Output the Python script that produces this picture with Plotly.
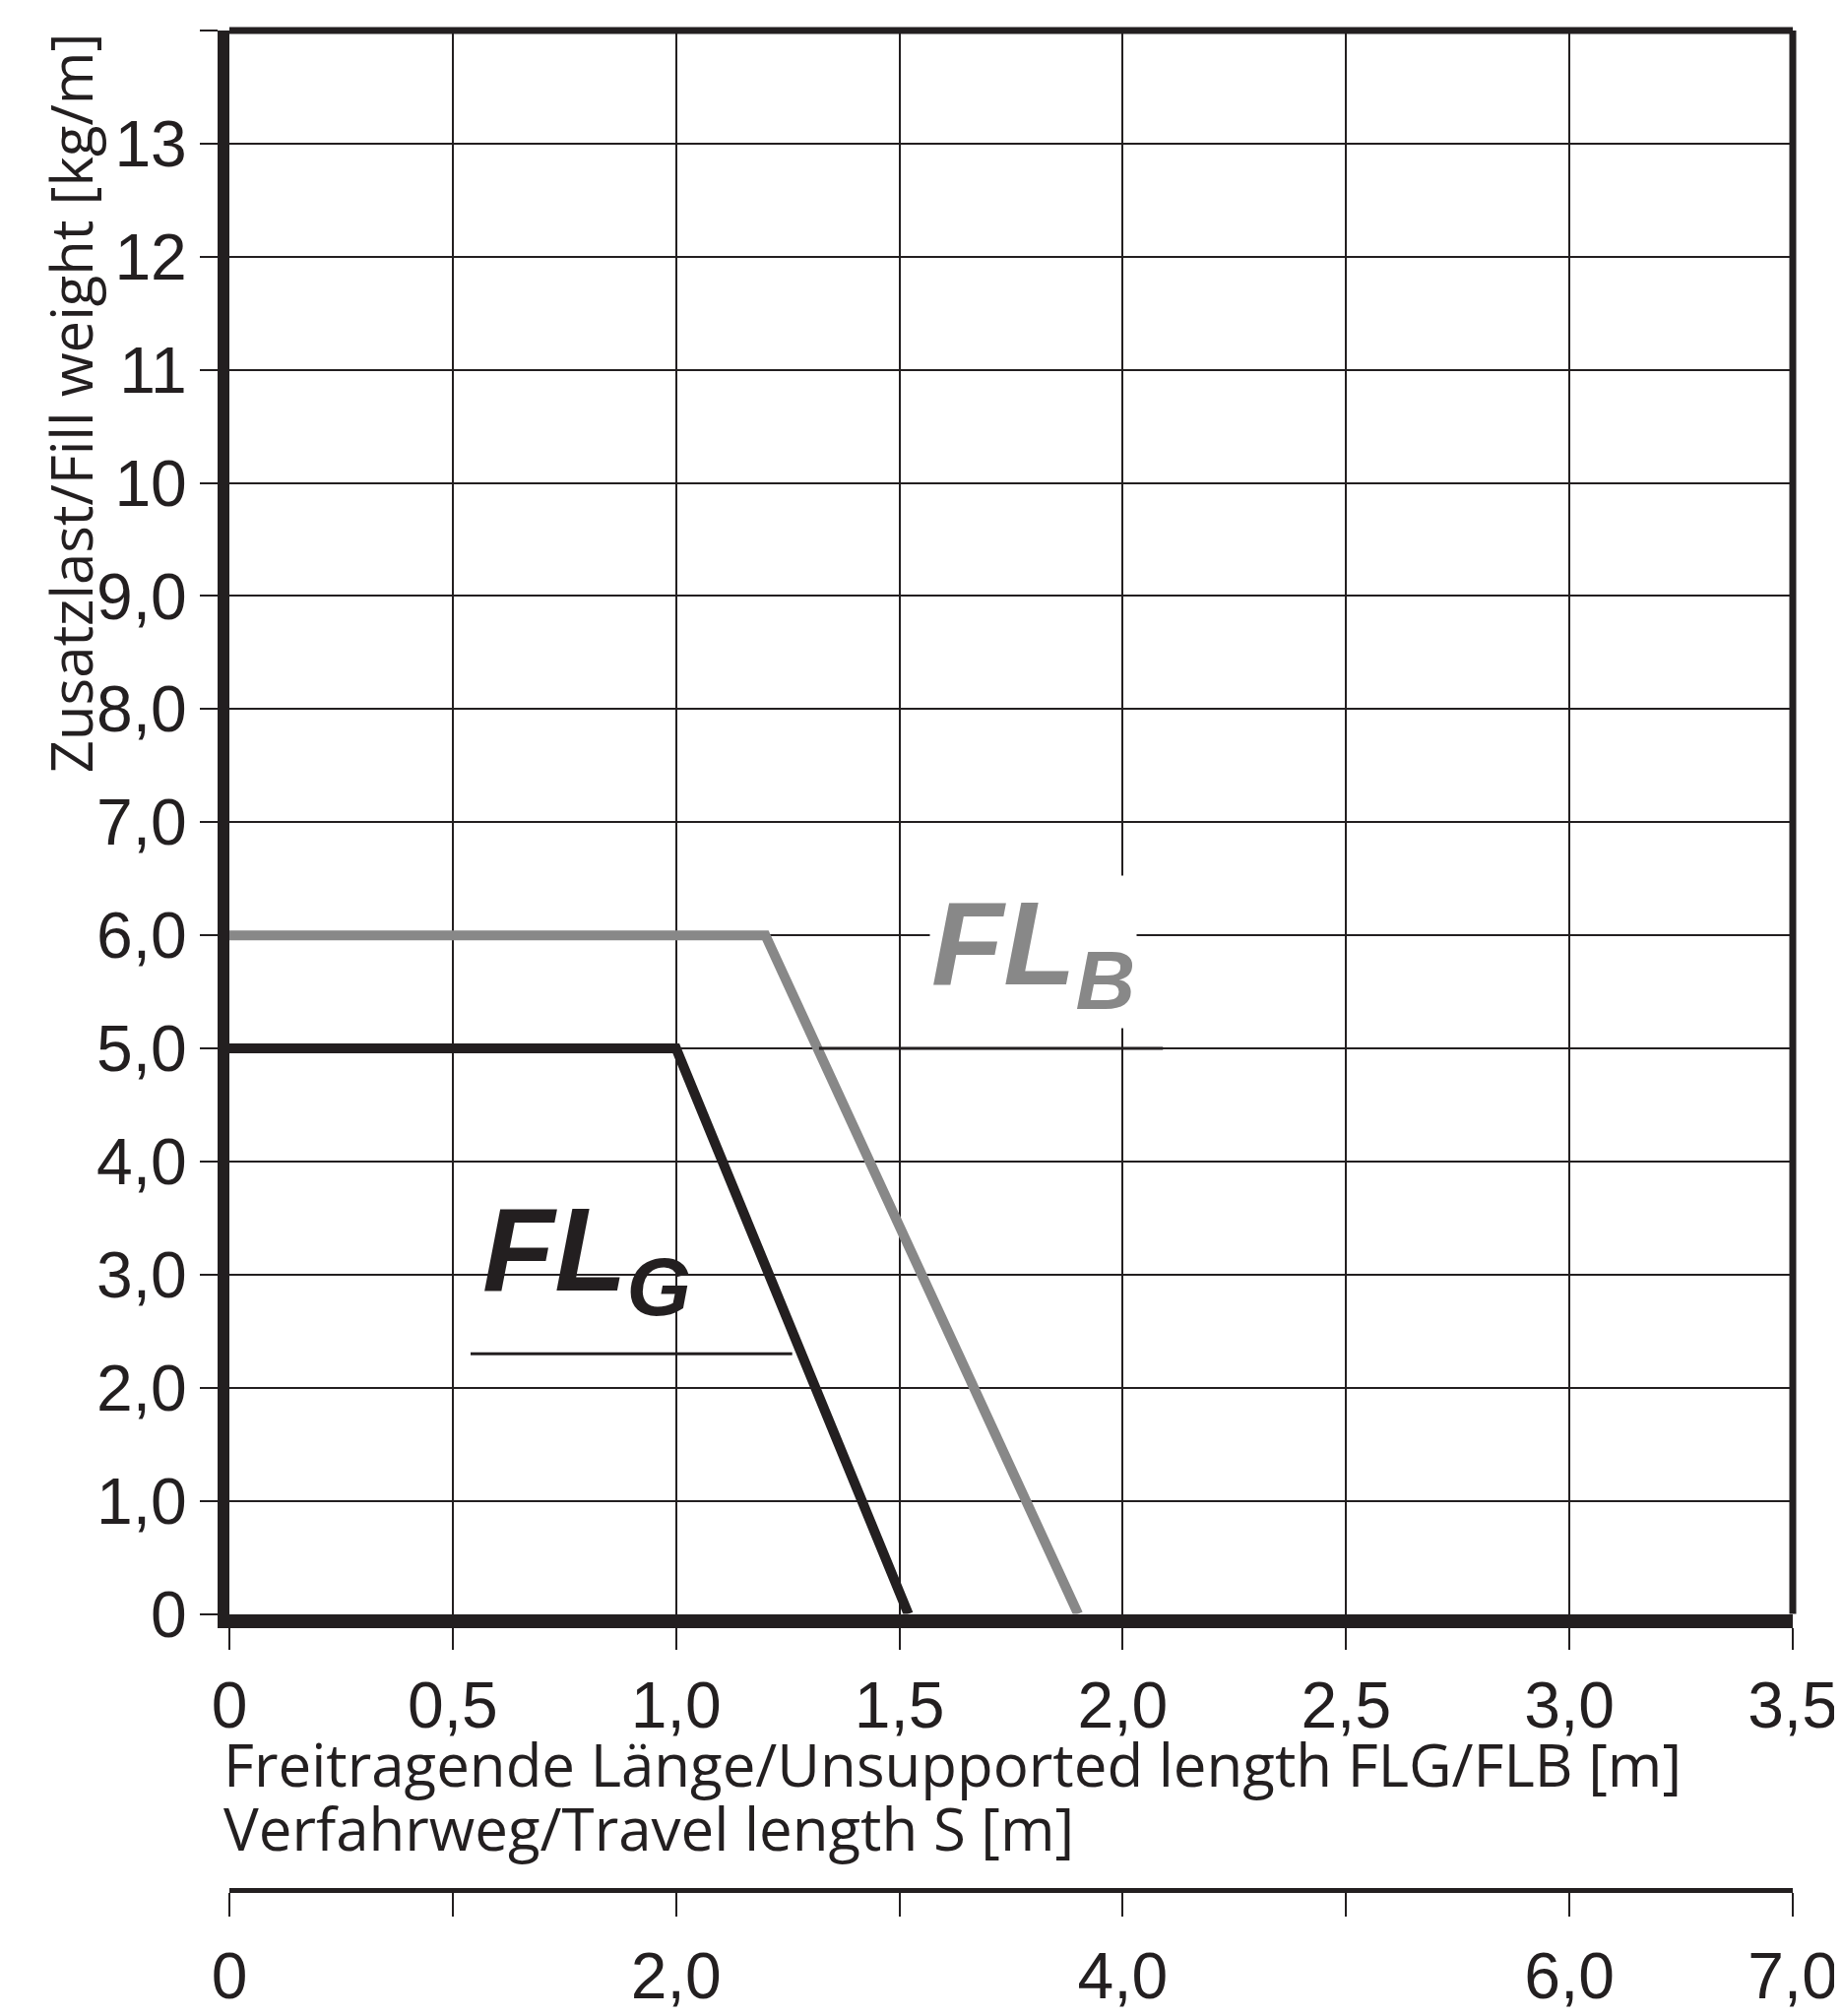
import plotly.graph_objects as go

# Kennlinien
flg_x = [0, 1.0, 1.52]
flg_y = [5, 5, 0]
flb_x = [0, 1.2, 1.9]
flb_y = [6, 6, 0]

y_ticks = list(range(0, 15))
y_labels = ['0', '1,0', '2,0', '3,0', '4,0', '5,0', '6,0', '7,0', '8,0', '9,0', '10', '11', '12', '13', '14']
x_ticks = [0, 0.5, 1.0, 1.5, 2.0, 2.5, 3.0, 3.5]
x_labels = ['0', '0,5', '1,0', '1,5', '2,0', '2,5', '3,0', '3,5']
s_ticks = [0, 1, 2, 3, 4, 5, 6, 7]
s_labels = ['0', '', '2,0', '', '4,0', '', '6,0', '7,0']

schrift = 'Liberation Sans, Arial'
titel_schrift = 'Open Sans, Noto Sans'
grau = '#888888'
schwarz = '#231f20'

fig = go.Figure()
fig.add_trace(go.Scatter(x=flb_x, y=flb_y, mode='lines', line=dict(color=grau, width=10), showlegend=False))
fig.add_trace(go.Scatter(x=flg_x, y=flg_y, mode='lines', line=dict(color=schwarz, width=10), showlegend=False))
# leere Spur für zweite Achse
fig.add_trace(go.Scatter(x=[0, 7], y=[0, 0], xaxis='x2', mode='none', showlegend=False, hoverinfo='skip'))

fig.update_layout(
    width=1871, height=2048,
    margin=dict(l=225, r=48, t=23, b=80),
    plot_bgcolor='white', paper_bgcolor='white',
    font=dict(family=schrift, size=66, color=schwarz),
    xaxis=dict(range=[0, 3.5], tickvals=x_ticks, ticktext=x_labels, showgrid=True, gridcolor=schwarz,
               gridwidth=2, zeroline=False, showline=True, linewidth=14, linecolor=schwarz,
               ticks='outside', ticklen=22, tickwidth=2, tickcolor=schwarz, anchor='y'),
    yaxis=dict(range=[0, 14], tickvals=y_ticks, ticktext=y_labels, showgrid=True, gridcolor=schwarz,
               gridwidth=2, zeroline=False, showline=True, linewidth=12, linecolor=schwarz,
               ticks='outside', ticklen=18, tickwidth=2, tickcolor=schwarz, domain=[0.17, 1]),
    xaxis2=dict(range=[0, 7], overlaying='x', anchor='free', position=0.0252, side='bottom',
                tickvals=s_ticks, ticktext=s_labels, showgrid=False, zeroline=False, showline=True,
                linewidth=5, linecolor=schwarz, ticks='outside', ticklen=24, tickwidth=2,
                tickcolor=schwarz, ticklabelstandoff=4),
)

# obere und rechte Rahmenlinie
fig.add_shape(type='line', xref='x domain', yref='y domain', x0=0, x1=1, y0=1, y1=1, line=dict(color=schwarz, width=7))
fig.add_shape(type='line', xref='x domain', yref='y domain', x0=1, x1=1, y0=0, y1=1, line=dict(color=schwarz, width=7))
# Unterstriche der Beschriftungen
fig.add_shape(type='line', x0=1.32, x1=2.09, y0=5.0, y1=5.0, line=dict(color=schwarz, width=3))
fig.add_shape(type='line', x0=0.54, x1=1.26, y0=2.3, y1=2.3, line=dict(color=schwarz, width=3))

fig.add_annotation(x=1.8, y=5.85, text='<b><i>FL<sub>B</sub></i></b>', showarrow=False,
                   font=dict(family='Liberation Sans, Arial', size=120, color=grau), bgcolor='white')
fig.add_annotation(x=0.8, y=3.15, text='<b><i>FL<sub>G</sub></i></b>', showarrow=False,
                   font=dict(family='Liberation Sans, Arial', size=120, color=schwarz))

fig.add_annotation(xref='paper', yref='paper', x=-0.005, y=0.0915, xanchor='left', yanchor='middle',
                   text='Freitragende Länge/Unsupported length FLG/FLB [m]', showarrow=False,
                   font=dict(family=titel_schrift, size=60))
fig.add_annotation(xref='paper', yref='paper', x=-0.005, y=0.0576, xanchor='left', yanchor='middle',
                   text='Verfahrweg/Travel length S [m]', showarrow=False,
                   font=dict(family=titel_schrift, size=60))
fig.add_annotation(xref='paper', yref='paper', x=-0.128, y=1.0, xanchor='left', yanchor='top',
                   text='Zusatzlast/Fill weight [kg/m]', textangle=-90, showarrow=False,
                   font=dict(family=titel_schrift, size=58))

fig.write_html("out.html")
